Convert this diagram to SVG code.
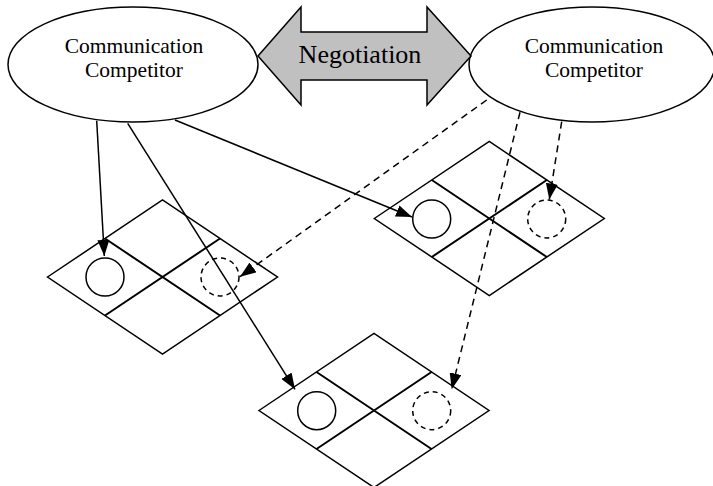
<svg xmlns="http://www.w3.org/2000/svg" width="713" height="486" viewBox="0 0 713 486">
<style>
.shape{fill:#fff;stroke:#000;stroke-width:1.5}
.txt{font-family:"Liberation Serif","Times New Roman",serif;fill:#000;text-anchor:middle}
.mid{stroke:#000;stroke-width:2;fill:none}
.piece{fill:none;stroke:#000;stroke-width:1.5}
.ghost{fill:none;stroke:#000;stroke-width:1.5;stroke-dasharray:5,4}
.solid{stroke:#000;stroke-width:1.5;fill:none;marker-end:url(#ah)}
.dash{stroke:#000;stroke-width:1.5;fill:none;stroke-dasharray:7,5;marker-end:url(#ah)}
</style>
<defs>
<marker id="ah" markerUnits="userSpaceOnUse" markerWidth="16" markerHeight="12" refX="16" refY="6" orient="auto">
<path d="M0,0 L16,6 L0,12 z" fill="#000"/>
</marker>
</defs>
<rect width="713" height="486" fill="#fff"/>
<g id="competitor-left">
<ellipse class="shape" cx="133" cy="64.5" rx="125" ry="57.5"/>
<text class="txt" x="134" y="53" font-size="21.5">Communication</text>
<text class="txt" x="134" y="77" font-size="21.5">Competitor</text>
</g>
<g id="competitor-right">
<ellipse class="shape" cx="592" cy="64.5" rx="123" ry="57.5"/>
<text class="txt" x="594" y="53" font-size="21.5">Communication</text>
<text class="txt" x="594" y="77" font-size="21.5">Competitor</text>
</g>
<g id="negotiation">
<path d="M258,56 L301,7 L301,32 L427,32 L427,7 L471,56 L427,105 L427,80 L301,80 L301,105 Z" fill="#c0c0c0" stroke="#000" stroke-width="1.5" stroke-linejoin="miter"/>
<text class="txt" x="360" y="63" font-size="26">Negotiation</text>
</g>
<g id="board-left">
<path class="shape" d="M47.5,277 L162.5,200 L277.5,277 L162.5,354 Z"/>
<path class="mid" d="M105,238.5 L220,315.5 M220,238.5 L105,315.5"/>
<circle class="piece" cx="105" cy="277" r="19"/>
<circle class="ghost" cx="220" cy="277" r="19"/>
</g>
<g id="board-right">
<path class="shape" d="M374.3,218.5 L489.3,141.5 L604.3,218.5 L489.3,295.5 Z"/>
<path class="mid" d="M431.8,180 L546.8,257 M546.8,180 L431.8,257"/>
<circle class="piece" cx="431.7" cy="219" r="19"/>
<circle class="ghost" cx="546.7" cy="219" r="19"/>
</g>
<g id="board-bottom">
<path class="shape" d="M259,410.5 L374,333.5 L489,410.5 L374,487.5 Z"/>
<path class="mid" d="M316.5,372 L431.5,449 M431.5,372 L316.5,449"/>
<circle class="piece" cx="316.7" cy="410.7" r="19"/>
<circle class="ghost" cx="431.7" cy="410.7" r="19"/>
</g>
<g id="connectors">
<line class="solid" x1="96.7" y1="120.7" x2="104.3" y2="256"/>
<line class="solid" x1="127.7" y1="123.3" x2="295" y2="389.3"/>
<line class="solid" x1="175" y1="120" x2="412" y2="217"/>
<line class="dash" x1="486.7" y1="100" x2="240" y2="276.7"/>
<line class="dash" x1="520" y1="112.3" x2="451.7" y2="389.3"/>
<line class="dash" x1="561.7" y1="121.7" x2="549.3" y2="199.5"/>
</g>
</svg>
